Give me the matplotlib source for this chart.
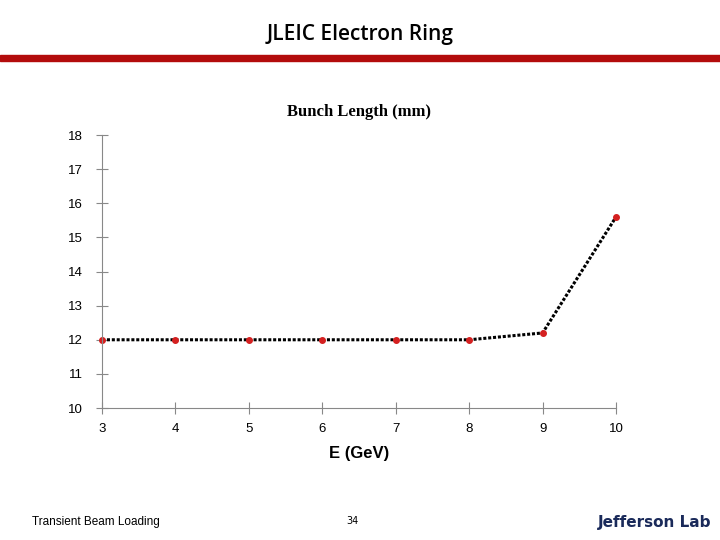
import matplotlib.pyplot as plt

energy = [3, 4, 5, 6, 7, 8, 9, 10]
bunch_length = [12.0, 12.0, 12.0, 12.0, 12.0, 12.0, 12.2, 15.6]

fig = plt.figure(figsize=(7.2, 5.4), dpi=100)

# slide header
fig.text(0.5, 0.937, "JLEIC Electron Ring", ha="center", va="center",
         fontsize=15, family="Open Sans", weight="semibold")
fig.patches.append(plt.Rectangle((0, 0.887), 1, 0.011, color="#b30c0c",
                                 transform=fig.transFigure, figure=fig))

ax = fig.add_axes([0.1417, 0.2444, 0.7139, 0.5056])
ax.plot(energy, bunch_length, color="black", linestyle=(0, (1, 0.6)),
        linewidth=2.2, clip_on=False)
ax.plot(energy, bunch_length, "o", color="#d42020", markersize=4, clip_on=False)
ax.set_xlim(3, 10)
ax.set_ylim(10, 18)
ax.set_xticks(energy)
ax.set_yticks(range(10, 19))
for s in ["top", "right"]:
    ax.spines[s].set_visible(False)
ax.spines["left"].set_color("#888888")
ax.spines["bottom"].set_color("#888888")
ax.tick_params(direction="inout", length=8, color="#888888", labelsize=9.5)
ax.tick_params(axis="x", pad=7)
ax.tick_params(axis="y", pad=10)
for lbl in ax.get_xticklabels() + ax.get_yticklabels():
    lbl.set_family("Liberation Sans")
ax.set_title("Bunch Length (mm)", family="Liberation Serif", weight="bold",
             fontsize=12, pad=14)
ax.set_xlabel("E (GeV)", fontsize=12, weight="bold", family="Liberation Sans",
              labelpad=8)

# footer
fig.text(0.045, 0.033, "Transient Beam Loading", fontsize=8.5, va="center",
         family="Liberation Sans")
fig.text(0.49, 0.035, "34", fontsize=7, va="center", ha="center")
fig.text(0.83, 0.033, "Jefferson Lab", fontsize=11, weight="bold",
         color="#1a2a5a", va="center")

fig.savefig("out.png")
